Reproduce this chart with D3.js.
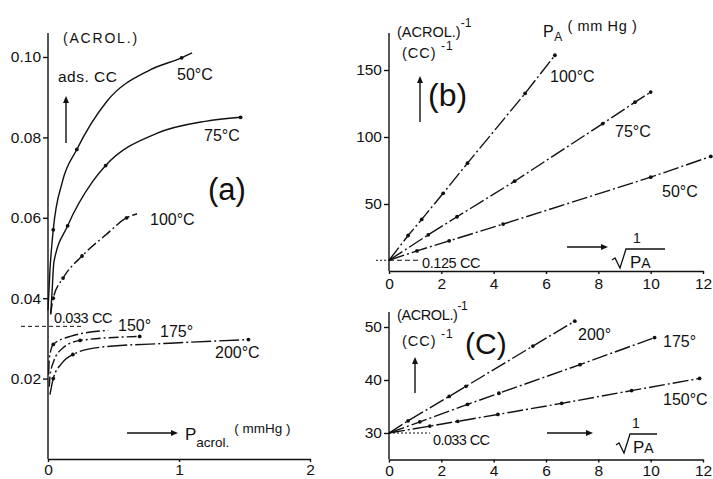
<!DOCTYPE html>
<html lang="en">
<head>
<meta charset="UTF-8">
<title>Acrolein adsorption</title>
<script src="https://d3js.org/d3.v7.min.js"></script>
<style>
  body { margin: 0; background: #fff; }
  svg { display: block; }
  text { font-family: "Liberation Sans", Arial, sans-serif; fill: #111; }
  .tick text { font-size: 15.5px; }
  .domain, .tick line { stroke: #111; stroke-width: 1.4; }
</style>
</head>
<body>
<svg id="chart" width="713" height="479"></svg>
<script>
// ---- panel (a): adsorbed acrolein (cc) vs P acrol (mmHg)
const aTicksX = [0, 1, 2];
const aTicksY = [0.02, 0.04, 0.06, 0.08, 0.10];
const a50 = [[0, 0.037], [0.015, 0.047], [0.04, 0.057], [0.11, 0.069], [0.22, 0.077], [0.45, 0.089], [0.78, 0.0968], [1.02, 0.0998], [1.1, 0.101]];
const a75 = [[0.02, 0.036], [0.03, 0.041], [0.045, 0.049], [0.15, 0.058], [0.34, 0.069], [0.44, 0.073], [0.83, 0.081], [1.2, 0.084], [1.47, 0.085]];
const a100 = [[0.02, 0.036], [0.04, 0.040], [0.115, 0.045], [0.26, 0.0505], [0.45, 0.056], [0.6, 0.060], [0.68, 0.061]];
const a150 = [[0.005, 0.021], [0.01, 0.025], [0.04, 0.0285], [0.17, 0.0305], [0.46, 0.032]];
const a175 = [[0.01, 0.018], [0.015, 0.0205], [0.04, 0.024], [0.11, 0.0275], [0.245, 0.0295], [0.7, 0.0305]];
const a200 = [[0.015, 0.016], [0.04, 0.020], [0.105, 0.0238], [0.19, 0.026], [0.4, 0.0278], [0.93, 0.0288], [1.53, 0.0297]];
const aDots50 = [[0.04, 0.057], [0.22, 0.077], [1.02, 0.0998]];
const aDots75 = [[0.15, 0.058], [0.44, 0.073], [1.47, 0.085]];
const aDots100 = [[0.04, 0.040], [0.115, 0.045], [0.26, 0.0505], [0.6, 0.060]];
const aDots150 = [[0.04, 0.0285]];
const aDots175 = [[0.245, 0.0295], [0.7, 0.0305]];
const aDots200 = [[0.04, 0.020], [0.19, 0.026], [1.53, 0.0297]];
const aMonolayer = 0.033;

// ---- panel (b): 1/ads vs 1/sqrt(P), 50-100 C
const bTicksX = [0, 2, 4, 6, 8, 10, 12];
const bTicksY = [50, 100, 150];
const b100 = [[0, 8], [0.73, 26.5], [1.25, 38.5], [2.07, 58], [3.0, 80.5], [5.2, 132.5], [6.34, 161]];
const b75 = [[0, 8], [1.5, 27], [2.6, 40.5], [4.8, 67], [8.17, 110], [9.4, 126], [10.0, 133.5]];
const b50 = [[0, 8], [1.07, 15], [2.3, 22.5], [4.36, 35], [10, 70], [12.3, 85.5]];
const bIntercept = 8;

// ---- panel (c): 1/ads vs 1/sqrt(P), 150-200 C
const cTicksX = [0, 2, 4, 6, 8, 10, 12];
const cTicksY = [30, 40, 50];
const c200 = [[0, 30], [0.73, 32.3], [2.3, 36.9], [2.94, 38.8], [5.5, 46.4], [7.1, 51.1]];
const c175 = [[0, 30], [1.18, 32.1], [3.0, 35.4], [4.2, 37.5], [7.3, 42.9], [10.15, 48]];
const c150 = [[0, 30], [1.56, 31.3], [2.63, 32.2], [4.16, 33.5], [6.6, 35.6], [9.27, 38], [11.87, 40.3]];
const cIntercept = 30;

const svg = d3.select("#chart");
const ink = "#111";

const xA = d3.scaleLinear().domain([0, 2]).range([48, 310]);
const yA = d3.scaleLinear().domain([0, 0.1]).range([459, 57]);
const xB = d3.scaleLinear().domain([0, 12]).range([389, 703]);
const yB = d3.scaleLinear().domain([0, 150]).range([271, 70]);
const xC = d3.scaleLinear().domain([0, 12]).range([389, 703]);
const yC = d3.scaleLinear().domain([25, 50]).range([459.5, 327]);

function axes(x, y, ticksX, ticksY, fmtY, yTop, xLabelY) {
  const x0 = x.range()[0], yb = y.range()[0];
  svg.append("g").attr("transform", `translate(0,${yb})`)
    .call(d3.axisBottom(x).tickValues(ticksX).tickSize(3).tickSizeOuter(0).tickFormat(d3.format("d")))
    .call(g => g.selectAll(".tick text").attr("y", xLabelY));
  svg.append("g").attr("transform", `translate(${x0},0)`)
    .call(d3.axisLeft(y).tickValues(ticksY).tickSize(5).tickPadding(2).tickSizeOuter(0).tickFormat(fmtY))
    .call(g => g.select(".domain").remove());
  svg.append("line").attr("x1", x0).attr("x2", x0).attr("y1", yTop).attr("y2", yb)
    .attr("stroke", ink).attr("stroke-width", 1.4);
}

axes(xA, yA, aTicksX, aTicksY, d3.format(".2f"), 33, 5);
axes(xB, yB, bTicksX, bTicksY, d3.format("d"), 33, 7);
axes(xC, yC, cTicksX, cTicksY, d3.format("d"), 312, 5);

function series(x, y, pts, dots, dash, curve) {
  const line = d3.line().x(d => x(d[0])).y(d => y(d[1])).curve(curve || d3.curveLinear);
  svg.append("path").datum(pts).attr("d", line)
    .attr("fill", "none").attr("stroke", ink).attr("stroke-width", 1.4)
    .attr("stroke-dasharray", dash || null);
  svg.append("g").selectAll("circle").data(dots).join("circle")
    .attr("cx", d => x(d[0])).attr("cy", d => y(d[1])).attr("r", 1.9).attr("fill", ink);
}

const mono = d3.curveMonotoneX;
series(xA, yA, a50, aDots50, null, mono);
series(xA, yA, a75, aDots75, null, mono);
series(xA, yA, a100, aDots100, "11,3,2,3", mono);
series(xA, yA, a150, aDots150, "14,3,2,3", mono);
series(xA, yA, a175, aDots175, "10,3,2,3", mono);
series(xA, yA, a200, aDots200, "20,3,2,3", mono);

const dd = "16,3,2,3";
series(xB, yB, b100, b100.slice(1), dd);
series(xB, yB, b75, b75.slice(1), dd);
series(xB, yB, b50, b50.slice(1), dd);

series(xC, yC, c200, c200.slice(1), dd);
series(xC, yC, c175, c175.slice(1), dd);
series(xC, yC, c150, c150.slice(1), dd);

// reference dashed lines (monolayer intercepts)
function hline(x1, x2, yv, dash) {
  svg.append("line").attr("x1", x1).attr("x2", x2).attr("y1", yv).attr("y2", yv)
    .attr("stroke", ink).attr("stroke-width", 1).attr("stroke-dasharray", dash);
}
hline(21, 84, yA(aMonolayer), "4,3");
hline(376, 389, yB(bIntercept), "2,2");
hline(389, 420, yB(bIntercept), "5,3");
hline(389, 430, yC(cIntercept), "2,2");

// text: parts = [[string, size, dy, dx]]
function txt(x, y, parts, ls) {
  const t = svg.append("text").attr("x", x).attr("y", y);
  if (ls) t.attr("letter-spacing", ls);
  if (typeof parts === "string") parts = [[parts, 16, 0]];
  parts.forEach(p => t.append("tspan").attr("font-size", p[1]).attr("dy", p[2]).attr("dx", p[3] || 0).text(p[0]));
  return t;
}
function arrow(x1, y1, x2, y2) {
  const ang = Math.atan2(y2 - y1, x2 - x1), h = 7, w = 3;
  const bx = x2 - h * Math.cos(ang), by = y2 - h * Math.sin(ang);
  svg.append("line").attr("x1", x1).attr("y1", y1).attr("x2", bx).attr("y2", by)
    .attr("stroke", ink).attr("stroke-width", 1.4);
  svg.append("path").attr("fill", ink)
    .attr("d", `M${x2},${y2}L${bx + w * Math.sin(ang)},${by - w * Math.cos(ang)}L${bx - w * Math.sin(ang)},${by + w * Math.cos(ang)}Z`);
}
function radical(x, yTop, yBot, x2) {
  svg.append("path").attr("fill", "none").attr("stroke", ink).attr("stroke-width", 1.3)
    .attr("d", `M${x},${yBot - 8}L${x + 3},${yBot - 10}L${x + 8},${yBot}L${x + 14},${yTop}L${x2},${yTop}`);
}

// panel (a) labels
txt(63, 43, [["(ACROL.)", 14, 0]], 1.8);
txt(58, 82, [["ads. CC", 15.5, 0]], 0.5);
arrow(66, 143, 66, 96);
txt(208, 200, [["(a)", 31, 0]]);
txt(177, 80, "50°C");
txt(204, 141, "75°C");
txt(150, 225, "100°C");
txt(54, 323, [["0.033 CC", 14.5, 0]], -0.4);
txt(118, 331, "150°");
txt(160, 337, "175°");
txt(215, 358, "200°C");
arrow(127, 433, 178, 433);
txt(185, 440, [["P", 17, 0], ["acrol.", 13.5, 7], ["( mmHg )", 13.5, -14, 5]]);

// panel (b) labels
txt(397, 37, [["(ACROL.)", 14.5, 0], ["-1", 12, -10]]);
txt(402, 58, [["(CC)", 14.5, 0], [" -1", 12, -8]], 1);
arrow(420, 122, 420, 76);
txt(428, 106, [["(b)", 32, 0]]);
txt(543, 37, [["P", 16, 0], ["A", 12, 4], [" ( mm Hg )", 14.5, -10]], 0.6);
txt(550, 82, "100°C");
txt(615, 137, "75°C");
txt(662, 197, "50°C");
txt(422, 268, [["0.125 CC", 14.5, 0]], -0.4);
arrow(567, 247, 608, 247);
txt(633, 243, [["1", 14, 0]]);
radical(612, 249, 268, 665);
txt(630, 268, [["P", 17, 0], ["A", 14, 0]]);

// panel (c) labels
txt(397, 320, [["(ACROL.)", 14.5, 0], ["-1", 12, -10]], -0.4);
txt(402, 346, [["(CC)", 14.5, 0], [" -1", 12, -8]], 1);
arrow(415, 393, 415, 357);
txt(465, 354, [["(C)", 30, 0]]);
txt(578, 340, "200°");
txt(663, 347, "175°");
txt(663, 405, "150°C");
txt(433, 445, [["0.033 CC", 14.5, 0]], -0.6);
arrow(547, 433, 593, 433);
txt(632, 428, [["1", 14, 0]]);
radical(616, 434, 453, 657);
txt(633, 453, [["P", 17, 0], ["A", 14, 0]]);
</script>
</body>
</html>
